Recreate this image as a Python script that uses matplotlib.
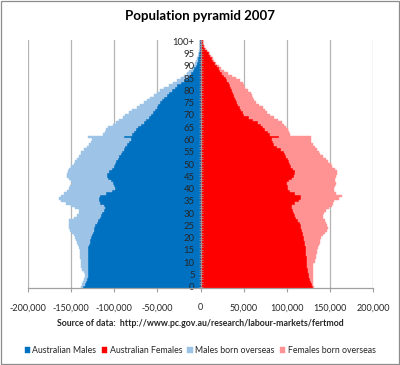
import matplotlib
matplotlib.use('Agg')
import matplotlib.pyplot as plt
from matplotlib.patches import Rectangle
from matplotlib.ticker import FuncFormatter
import numpy as np

plt.rcParams['font.family'] = ['Lato', 'DejaVu Sans']

# Ages 0 .. 100+ (one bar per year)
ages = list(range(101))
age_labels = [str(a) if a < 100 else '100+' for a in ages]

# Population in thousands
aus_males = [
    136, 134, 133, 132, 131, 130, 130, 131, 131, 130,
    130, 130, 131, 130, 130, 130, 130, 129, 128, 128,
    127, 126, 125, 124, 123, 122, 120, 119, 117, 115,
    114, 112, 111, 112, 116, 118, 118, 116, 109, 103,
    99, 100, 101, 104, 107, 108, 108, 106, 103, 100,
    99, 98, 96, 94, 92, 91, 89, 87, 85, 83,
    81, 89, 79, 77, 75, 72, 69, 66, 63, 60,
    57, 55, 53, 51, 49, 47, 45, 42, 39, 36,
    33, 30, 27, 23, 19, 15, 13, 11, 9, 7,
    5.5, 4.3, 3.3, 2.5, 1.8, 1.3, 0.9, 0.6, 0.4, 0.3,
    0.4,
]
males_overseas = [
    2, 3, 3, 3, 3, 4, 5, 6, 7, 8,
    8, 9, 9, 10, 10, 10, 11, 13, 15, 16,
    18, 21, 24, 27, 29, 31, 33, 33, 30, 28,
    27, 29, 34, 38, 40, 44, 46, 46, 49, 52,
    54, 51, 48, 46, 46, 47, 47, 48, 50, 50,
    48, 47, 47, 47, 47, 47, 46, 45, 44, 44,
    45, 41, 34, 34, 34, 35, 33, 32, 31, 30,
    30, 28, 26, 23, 21, 19, 17, 16, 15, 14,
    14, 12, 10, 9, 8, 8, 6, 5, 4, 3,
    2.5, 2, 1.5, 1, 0.7, 0.5, 0.4, 0.3, 0.2, 0.1,
    0.2,
]
aus_females = [
    131, 129, 128, 127, 126, 125.5, 125, 124.5, 124, 124,
    123.5, 123, 123, 122.5, 122.5, 122.5, 122, 121.5, 121, 120.5,
    120, 119, 118.5, 118, 117, 116, 115, 113, 111, 109,
    108, 107, 106, 106, 110, 114, 117, 116, 109, 104,
    102, 101, 100, 103, 106, 108, 110, 110, 107, 105,
    104, 103, 101, 99, 98, 96.5, 93, 89, 85, 84,
    83, 91, 81, 78, 75, 73, 70, 67, 61, 56,
    51, 49, 47, 45.5, 44, 42.5, 41, 39.5, 38.5, 37.5,
    36.5, 35, 34, 32.5, 30.5, 29, 27, 25.5, 23, 21,
    19, 17, 15, 13, 11, 9.3, 7.5, 5.5, 3.5, 2.5,
    2.5,
]
females_overseas = [
    1, 1.5, 2, 3, 4, 4.5, 5, 5.5, 6, 7,
    9.5, 10, 11, 11.5, 12.5, 12.5, 14, 15.5, 17, 18.5,
    20, 23, 25.5, 29, 31, 31, 31, 31, 31, 33,
    35, 39, 43, 46, 44, 41, 43, 48, 48, 51,
    53, 55, 57, 53, 50, 49, 48, 48, 49, 48,
    47, 45, 44, 43, 41, 40.5, 42, 44, 45, 44,
    45, 37, 23, 25, 26, 26, 27, 27, 29, 29,
    29, 28, 28, 26.5, 24, 21.5, 21, 21.5, 21.5, 20.5,
    18.5, 17, 17, 16.5, 15.5, 12, 9, 6.5, 4, 3,
    2, 1.5, 1, 1, 1, 0.7, 0.5, 0.5, 0.5, 0.5,
    0.2,
]

x_ticks = [-200000, -150000, -100000, -50000, 0, 50000, 100000, 150000, 200000]

c_am = '#0070C0'
c_af = '#FF0000'
c_mo = '#9DC3E6'
c_fo = '#FF9393'

am = np.array(aus_males) * 1000
mo = np.array(males_overseas) * 1000
af = np.array(aus_females) * 1000
fo = np.array(females_overseas) * 1000

fig = plt.figure(figsize=(4.0, 3.65), dpi=100, facecolor='white')
ax = fig.add_axes([0.07, 0.211, 0.8625, 0.679])

ax.barh(ages, -am, height=1.0, color=c_am, edgecolor=c_am, linewidth=0.3, label='Australian Males')
ax.barh(ages, af, height=1.0, color=c_af, edgecolor=c_af, linewidth=0.3, label='Australian Females')
ax.barh(ages, -mo, left=-am, height=1.0, color=c_mo, edgecolor=c_mo, linewidth=0.3, label='Males born overseas')
ax.barh(ages, fo, left=af, height=1.0, color=c_fo, edgecolor=c_fo, linewidth=0.3, label='Females born overseas')

ax.set_xlim(-200000, 200000)
ax.set_ylim(-0.5, 100.5)

# vertical gridlines
ax.set_xticks(x_ticks)
ax.xaxis.set_major_formatter(FuncFormatter(lambda v, p: f'{int(v):,}'))
for xv in x_ticks:
    if xv != 0:
        ax.axvline(xv, color='#B4B4B4', linewidth=0.9, zorder=0)

# age axis sits at zero
ax.spines['top'].set_visible(False)
ax.spines['right'].set_visible(False)
ax.spines['left'].set_position(('data', 0))
ax.spines['left'].set_color('#A0A0A0')
ax.spines['left'].set_linewidth(0.6)
ax.spines['bottom'].set_color('#A0A0A0')
ax.spines['bottom'].set_linewidth(0.9)

ax.set_yticks(ages)
ax.set_yticklabels([lab if a % 5 == 0 else '' for a, lab in zip(ages, age_labels)])
ax.tick_params(axis='y', length=2.5, width=0.5, color='#A0A0A0', direction='inout',
               labelsize=6.8, labelcolor='#262626', pad=3)
ax.tick_params(axis='x', length=3, width=0.8, color='#A0A0A0', direction='out',
               labelsize=6.5, labelcolor='#262626', pad=8)
for lab in ax.get_yticklabels():
    lab.set_zorder(5)

fig.text(0.5, 0.955, 'Population pyramid 2007', ha='center', va='center',
         fontsize=9.5, fontweight='bold', color='black')
fig.text(0.5, 0.113, 'Source of data:  http://www.pc.gov.au/research/labour-markets/fertmod',
         ha='center', va='center', fontsize=6.3, fontweight='bold', color='#262626')

handles, labels = ax.get_legend_handles_labels()
fig.legend(handles, labels, loc='center', bbox_to_anchor=(0.5, 0.04), ncol=4,
           frameon=False, fontsize=6.3, handlelength=0.6, handleheight=0.6,
           handletextpad=0.3, columnspacing=0.6, labelcolor='#262626')

fig.patches.append(Rectangle((0.002, 0.003), 0.995, 0.994, transform=fig.transFigure,
                             fill=False, edgecolor='#8C8C8C', linewidth=0.9))

fig.savefig('out.png', dpi=100)
plt.close(fig)
